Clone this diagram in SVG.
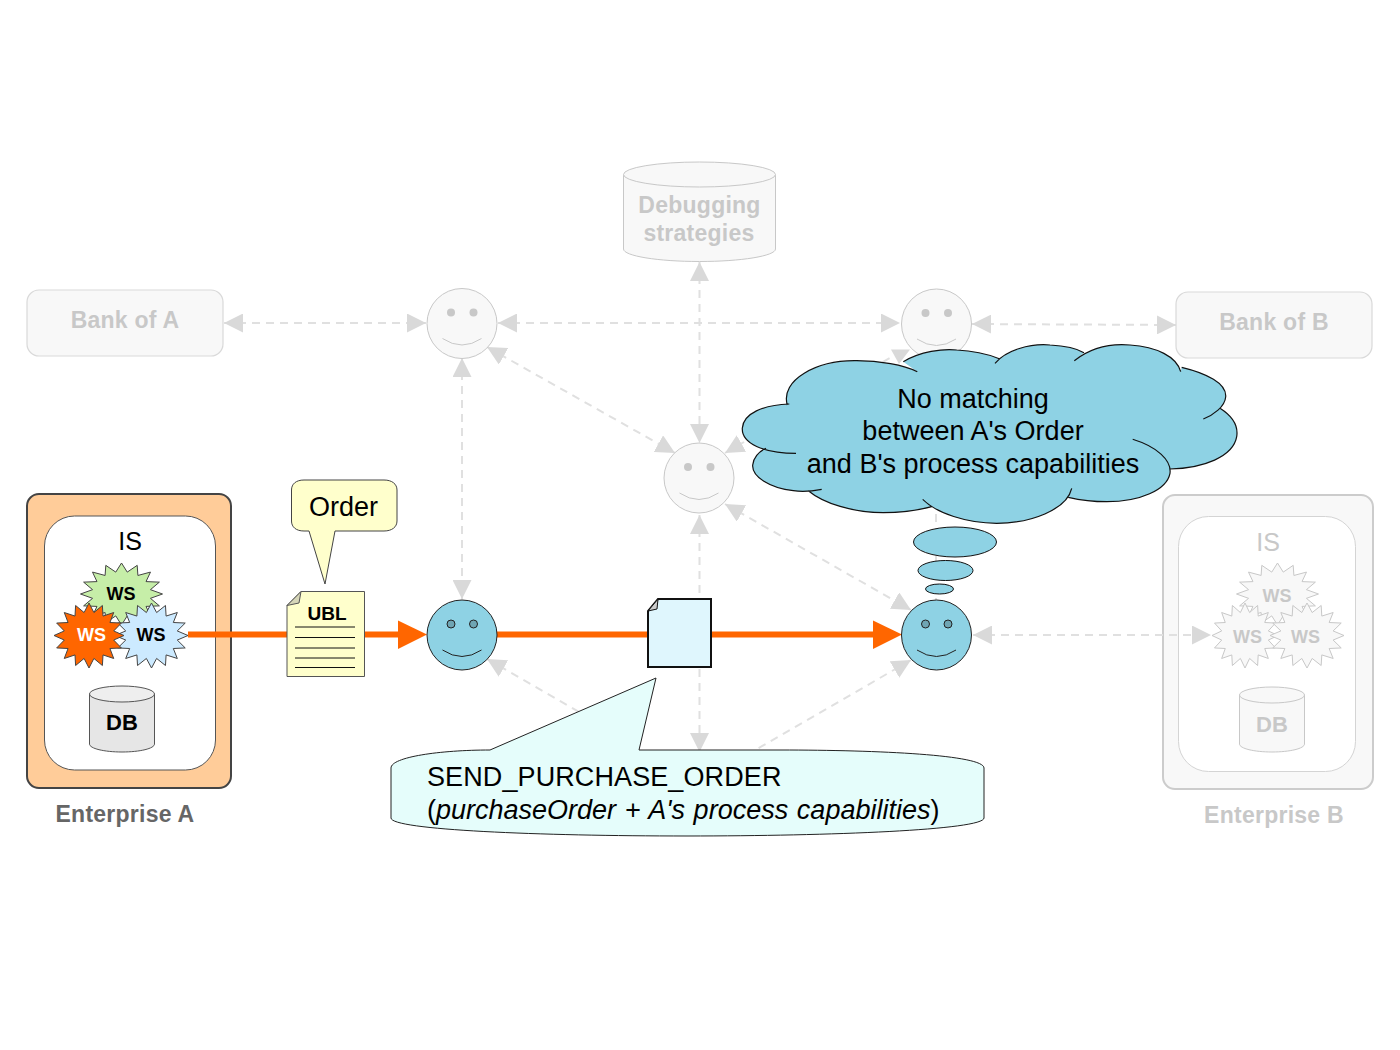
<svg xmlns="http://www.w3.org/2000/svg" xmlns:xlink="http://www.w3.org/1999/xlink" width="1400" height="1050" viewBox="0 0 1400 1050">
<style>
text{font-family:"Liberation Sans",Arial,sans-serif;text-anchor:middle;fill:#000}
.b{font-weight:bold}
.g{fill:#c8c8c8}
.t27{font-size:27px}
.lbl{font-size:23px;font-weight:bold;letter-spacing:.25px}
.ws{font-size:18px;font-weight:bold}
.gbox{fill:#f8f8f8;stroke:#d9d9d9;stroke-width:1.2}
.gc{fill:#f8f8f8;stroke:#c8c8c8;stroke-width:1}
.dash{fill:none;stroke:#e0e0e0;stroke-width:2;stroke-dasharray:8 6;marker-start:url(#h);marker-end:url(#h)}
.dash1{fill:none;stroke:#e0e0e0;stroke-width:2;stroke-dasharray:8 6}
.on .face{fill:#8ed2e4;stroke:#222;stroke-width:1}
.on .eye{fill:#6fa5b3;stroke:#222;stroke-width:1}
.on .smile{fill:none;stroke:#222;stroke-width:1}
.off .face{fill:#f8f8f8;stroke:#c8c8c8;stroke-width:1}
.off .eye{fill:#c8c8c8}
.off .smile{fill:none;stroke:#c8c8c8;stroke-width:1}
.ln{stroke:#111;stroke-width:1}
.cl{fill:#8ed2e4}
.cs{fill:none;stroke:#111;stroke-width:1.2}
.or{stroke:#ff6600;stroke-width:6;fill:none}
</style>
<defs>
<marker id="h" viewBox="0 0 19 19" refX="19" refY="9.5" markerWidth="19" markerHeight="19" markerUnits="userSpaceOnUse" orient="auto-start-reverse"><path d="M0 0L19 9.5L0 19Z" fill="#d9d9d9"/></marker>
<polygon id="st" vector-effect="non-scaling-stroke" stroke-width="1" points="1,0 .706,.14 .924,.383 .598,.4 .707,.707 .4,.598 .383,.924 .14,.706 0,1 -.14,.706 -.383,.924 -.4,.598 -.707,.707 -.598,.4 -.924,.383 -.706,.14 -1,0 -.706,-.14 -.924,-.383 -.598,-.4 -.707,-.707 -.4,-.598 -.383,-.924 -.14,-.706 0,-1 .14,-.706 .383,-.924 .4,-.598 .707,-.707 .598,-.4 .924,-.383 .706,-.14"/>
</defs>

<g id="enterprise-a">
<rect x="27" y="494" width="204" height="294" rx="12" fill="#ffcc99" stroke="#444" stroke-width="2"/>
<rect x="44.500" y="516" width="171" height="254" rx="30" fill="#fff" stroke="#555"/>
<text x="130" y="550" font-size="25">IS</text>
<text x="125" y="822" class="lbl" style="fill:#666">Enterprise A</text>
</g>
<g id="enterprise-b">
<rect x="1163" y="495" width="210" height="294" rx="12" fill="#f8f8f8" stroke="#ccc" stroke-width="2"/>
<rect x="1178.500" y="516.500" width="177" height="255" rx="30" fill="#fff" stroke="#d4d4d4"/>
<text x="1268" y="551" font-size="25" class="g">IS</text>
<text x="1274" y="823" class="lbl g">Enterprise B</text>
</g>

<g id="connectors">
<line class="dash" x1="224" y1="323" x2="426" y2="323"/>
<line class="dash" x1="498" y1="323" x2="900" y2="323"/>
<line class="dash" x1="972" y1="324" x2="1176" y2="325"/>
<line class="dash" x1="699.500" y1="262" x2="699.500" y2="443"/>
<line class="dash" x1="462" y1="358" x2="462" y2="599"/>
<line class="dash" x1="487" y1="347" x2="675" y2="453"/>
<path class="dash1" d="M725 453L900 352" marker-start="url(#h)"/>
<polygon points="891,349.500 910,349.500 899,364" fill="#d9d9d9"/>
<line class="dash" x1="725" y1="504" x2="911" y2="610"/>
<line class="dash" x1="699.500" y1="515" x2="699.500" y2="752"/>
<path class="dash1" d="M487 659L600 724" marker-start="url(#h)"/>
<path class="dash1" d="M911 660L750 753" marker-start="url(#h)"/>
<line class="dash" x1="973" y1="635" x2="1211" y2="635"/>
<line class="dash1" x1="936" y1="360" x2="936" y2="600"/>
<path class="or" d="M188 634.500H287M365 634.500H400M497 634.500H648M711 634.500H875"/>
<polygon points="398,620.500 398,649 427,634.500" fill="#ff6600"/>
<polygon points="873,620.500 873,649 902,634.500" fill="#ff6600"/>
</g>

<g id="ws-a-green"><use xlink:href="#st" transform="translate(121.500 594) scale(41 31)" fill="#c6eea8" stroke="#444"/><text x="121" y="600" class="ws">WS</text></g>
<g id="ws-a-blue"><use xlink:href="#st" transform="translate(151.500 635.500) scale(36.500 32.500)" fill="#cceaff" stroke="#444"/><text x="151" y="641" class="ws">WS</text></g>
<g id="ws-a-orange"><use xlink:href="#st" transform="translate(89 635.500) scale(35 32.500)" fill="#ff6600" stroke="#444"/><text x="91.500" y="641" class="ws" style="fill:#fff">WS</text></g>
<g id="db-a">
<path d="M89.500 694V744C89.500 748.500 104 752 122 752S154.500 748.500 154.500 744V694Z" fill="#e6e6e6" stroke="#555"/>
<ellipse cx="122" cy="694" rx="32.500" ry="8" fill="#eee" stroke="#555"/>
<text x="122" y="730" font-size="22" class="b">DB</text>
</g>

<g id="ws-b-top"><use xlink:href="#st" transform="translate(1277.500 594) scale(41 31)" fill="#f8f8f8" stroke="#c8c8c8"/><text x="1277" y="601.500" class="ws g">WS</text></g>
<g id="ws-b-left"><use xlink:href="#st" transform="translate(1245 635.500) scale(33 32.500)" fill="#f8f8f8" stroke="#c8c8c8"/><text x="1247.500" y="642.500" class="ws g">WS</text></g>
<g id="ws-b-right"><use xlink:href="#st" transform="translate(1307 635.500) scale(37 32.500)" fill="#f8f8f8" stroke="#c8c8c8"/><text x="1305.500" y="642.500" class="ws g">WS</text></g>
<g id="db-b">
<path class="gc" d="M1239.500 695V744C1239.500 748.500 1254 752 1272 752S1304.500 748.500 1304.500 744V695Z"/>
<ellipse class="gc" cx="1272" cy="695" rx="32.500" ry="8"/>
<text x="1272" y="731.500" font-size="22" class="b g">DB</text>
</g>

<g id="bank-a"><rect class="gbox" x="27" y="290" width="196" height="66" rx="12"/><text x="125" y="328" class="lbl g">Bank of A</text></g>
<g id="bank-b"><rect class="gbox" x="1176" y="292" width="196" height="66" rx="12"/><text x="1274" y="330" class="lbl g">Bank of B</text></g>
<g id="debugging">
<path class="gc" d="M623.500 175V249C623.500 256 658 261.500 699.500 261.500S775.500 256 775.500 249V175Z"/>
<ellipse class="gc" cx="699.500" cy="174.500" rx="76" ry="12.500"/>
<text x="699.500" y="213" class="lbl g">Debugging</text>
<text x="699" y="241" class="lbl g">strategies</text>
</g>

<g id="smiley-top-left" class="off" transform="translate(462 323.500)"><circle class="face" r="35"/><circle class="eye" cx="-11" cy="-11" r="4"/><circle class="eye" cx="11.500" cy="-11" r="4"/><path class="smile" d="M-19.500 15Q0 28 19.500 15"/></g>
<g id="smiley-top-right" class="off" transform="translate(936.500 324)"><circle class="face" r="35"/><circle class="eye" cx="-11" cy="-11" r="4"/><circle class="eye" cx="11.500" cy="-11" r="4"/><path class="smile" d="M-19.500 15Q0 28 19.500 15"/></g>
<g id="smiley-center" class="off" transform="translate(699 478)"><circle class="face" r="35"/><circle class="eye" cx="-11" cy="-11" r="4"/><circle class="eye" cx="11.500" cy="-11" r="4"/><path class="smile" d="M-19.500 15Q0 28 19.500 15"/></g>
<g id="smiley-left" class="on" transform="translate(462 635)"><circle class="face" r="35"/><circle class="eye" cx="-11" cy="-11" r="4"/><circle class="eye" cx="11.500" cy="-11" r="4"/><path class="smile" d="M-19.500 15Q0 28 19.500 15"/></g>
<g id="smiley-right" class="on" transform="translate(936.500 635)"><circle class="face" r="35"/><circle class="eye" cx="-11" cy="-11" r="4"/><circle class="eye" cx="11.500" cy="-11" r="4"/><path class="smile" d="M-19.500 15Q0 28 19.500 15"/></g>

<g id="ubl-doc">
<path d="M301 591.500H364.500V676.500H287V605.500Z" fill="#ffffcc" stroke="#555"/>
<path d="M301 591.500L287 605.500L299 603Z" fill="#d6d6b8" stroke="#555"/>
<text x="327" y="619.500" font-size="19" class="b">UBL</text>
<path class="ln" d="M295 627H355M295 637.500H355M295 648H355M295 658H355M295 667.500H355" fill="none"/>
</g>
<g id="order-callout">
<path d="M304 480H384C392 480 397 484 397 490V521C397 527 392 531 384 531H335L325 584L309 531H304C296 531 291.500 527 291.500 521V490C291.500 484 296 480 304 480Z" fill="#ffffcc" stroke="#444"/>
<text x="343.500" y="516" class="t27">Order</text>
</g>
<g id="message-doc">
<path d="M658 599H711V667H648V611Z" fill="#dff6fd" stroke="#111" stroke-width="2"/>
<path d="M658 599L648 611L657 609Z" fill="#ccc" stroke="#111"/>
</g>
<g id="send-callout">
<path d="M490 750L656 678L639 750H780C880 750 984 755 984 768V818C984 830 830 836 687 836C540 836 391 830 391 818V768C391 757 440 750 490 750Z" fill="#e5fdfb" stroke="#222"/>
<text x="427" y="786" class="t27" style="text-anchor:start;letter-spacing:.1px">SEND_PURCHASE_ORDER</text>
<text x="427" y="819" class="t27" style="text-anchor:start;word-spacing:1.2px">(<tspan font-style="italic">purchaseOrder + A's process capabilities</tspan>)</text>
</g>
<g id="thought-cloud">
<path class="cl" d="M796 453.300C763.300 453.300 741.700 443.300 742.300 428.300C743.300 413.300 763.300 405 789.300 404L787.300 405C780 380 816.700 360 856.700 360.700C880 360.700 903.300 365 917.300 371.700L903.300 361.700C920 351.700 943.300 348.300 956.700 350C973.300 350.700 990 355 999.300 358.700L995 363.300C1006.700 350 1030 343.300 1050 345C1063.300 345.700 1076.700 348.300 1084 352.700L1074.300 360.700C1090 348.300 1110 343.300 1130 345C1156.700 346.700 1176.700 356.700 1180.700 371.700L1181.700 367.300C1206.700 373.300 1226.700 383.300 1225.700 396.700C1225 406.700 1213.300 415 1203.300 419L1220 408.300C1233.300 416.700 1238.300 426.700 1236.700 436.700C1233.300 456.700 1203.300 468.300 1170 469L1170 473.300C1166.700 490 1140 501.700 1106.700 501.700C1093.300 501.700 1080 500 1068.300 497.300L1071.700 488.300C1066.700 510 1030 523.300 996.700 523.300C966.700 523.300 936.700 513.300 922.700 499.300L931.700 506.700C916.700 510.700 900 512.700 883.300 512.700C853.300 512.700 823.300 503.300 808.300 490.700L821.700 489.300C810 491.700 800 491.700 793.300 490.700C770 488.300 751.700 476.700 752.700 465C753.300 458.300 758.300 451.700 766 448.300Z"/>
<path class="cs" d="M796 453.300C763.300 453.300 741.700 443.300 742.300 428.300C743.300 413.300 763.300 405 789.300 404M787.300 405C780 380 816.700 360 856.700 360.700C880 360.700 903.300 365 917.300 371.700M903.300 361.700C920 351.700 943.300 348.300 956.700 350C973.300 350.700 990 355 999.300 358.700M995 363.300C1006.700 350 1030 343.300 1050 345C1063.300 345.700 1076.700 348.300 1084 352.700M1074.300 360.700C1090 348.300 1110 343.300 1130 345C1156.700 346.700 1176.700 356.700 1180.700 371.700M1181.700 367.300C1206.700 373.300 1226.700 383.300 1225.700 396.700C1225 406.700 1213.300 415 1203.300 419M1220 408.300C1233.300 416.700 1238.300 426.700 1236.700 436.700C1233.300 456.700 1203.300 468.300 1170 469M1132.700 439.300C1156.700 446.700 1171.700 460 1170 473.300C1166.700 490 1140 501.700 1106.700 501.700C1093.300 501.700 1080 500 1068.300 497.300M1071.700 488.300C1066.700 510 1030 523.300 996.700 523.300C966.700 523.300 936.700 513.300 922.700 499.300M931.700 506.700C916.700 510.700 900 512.700 883.300 512.700C853.300 512.700 823.300 503.300 808.300 490.700M821.700 489.300C810 491.700 800 491.700 793.300 490.700C770 488.300 751.700 476.700 752.700 465C753.300 458.300 758.300 451.700 766 448.300"/>
<ellipse cx="955" cy="542" rx="41.500" ry="15" fill="#8ed2e4" stroke="#111"/>
<ellipse cx="945.500" cy="570.500" rx="27.500" ry="10" fill="#8ed2e4" stroke="#111"/>
<ellipse cx="939.500" cy="589" rx="14" ry="5" fill="#8ed2e4" stroke="#111"/>
<text x="973" y="408" class="t27">No matching</text>
<text x="973" y="440" class="t27">between A's Order</text>
<text x="973" y="473" class="t27">and B's process capabilities</text>
</g>
</svg>
